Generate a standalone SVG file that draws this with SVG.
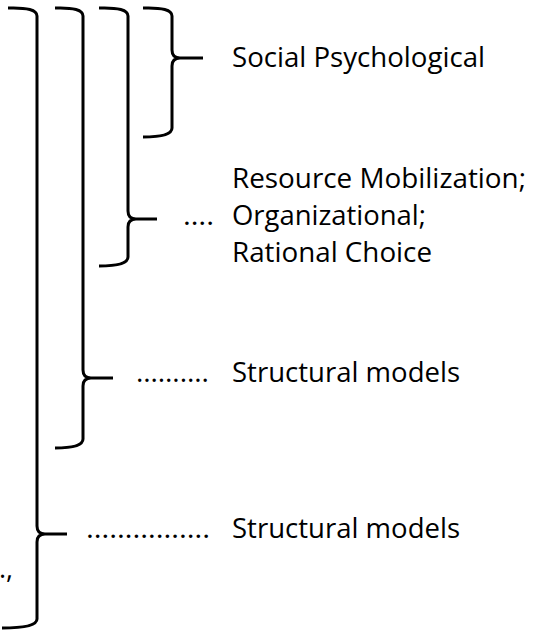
<svg xmlns="http://www.w3.org/2000/svg" width="533" height="630" viewBox="0 0 533 630">
<style>
.br{fill:none;stroke:#000;stroke-width:3;stroke-linecap:butt;stroke-linejoin:round}
.t{font-family:"Open Sans","Liberation Sans",sans-serif;font-size:27px;fill:#000}
</style>
<rect width="533" height="630" fill="#fff"/>
<g id="connectors">
<path id="brace1" class="br" d="M8,8 Q37,7 37,16 L37,526 Q37,534 45,534 L67,534 M67,534 L45,534 Q37,534 37,542 L37,619 Q37,628 2,628"/>
<path id="brace2" class="br" d="M55,8 Q83,7 83,16 L83,370 Q83,378 91,378 L113,378 M113,378 L91,378 Q83,378 83,386 L83,439 Q83,448 55,448"/>
<path id="brace3" class="br" d="M99,8 Q128,7 128,16 L128,211 Q128,219 136,219 L157,219 M157,219 L136,219 Q128,219 128,227 L128,257 Q128,266 99,266"/>
<path id="brace4" class="br" d="M143,8 Q172,7 172,16 L172,50 Q172,58 180,58 L203,58 M203,58 L180,58 Q172,58 172,66 L172,128 Q172,137 143,137"/>
</g>
<g id="node-social">
<text class="t" x="232" y="67" textLength="253" lengthAdjust="spacingAndGlyphs">Social Psychological</text>
</g>
<g id="node-resource">
<text class="t" x="232" y="188" textLength="294" lengthAdjust="spacingAndGlyphs">Resource Mobilization;</text>
<text class="t" x="183" y="225" textLength="31" lengthAdjust="spacingAndGlyphs">….</text>
<text class="t" x="232" y="225" textLength="194" lengthAdjust="spacingAndGlyphs">Organizational;</text>
<text class="t" x="232" y="262" textLength="200" lengthAdjust="spacingAndGlyphs">Rational Choice</text>
</g>
<g id="node-structural1">
<text class="t" x="136" y="382" textLength="73" lengthAdjust="spacingAndGlyphs">……….</text>
<text class="t" x="232" y="382" textLength="228" lengthAdjust="spacingAndGlyphs">Structural models</text>
</g>
<g id="node-structural2">
<text class="t" x="86" y="538" textLength="124" lengthAdjust="spacingAndGlyphs">…………….</text>
<text class="t" x="232" y="538" textLength="228" lengthAdjust="spacingAndGlyphs">Structural models</text>
</g>
<g id="node-left">
<text class="t" x="13" y="578" text-anchor="end">.,</text>
</g>
</svg>
